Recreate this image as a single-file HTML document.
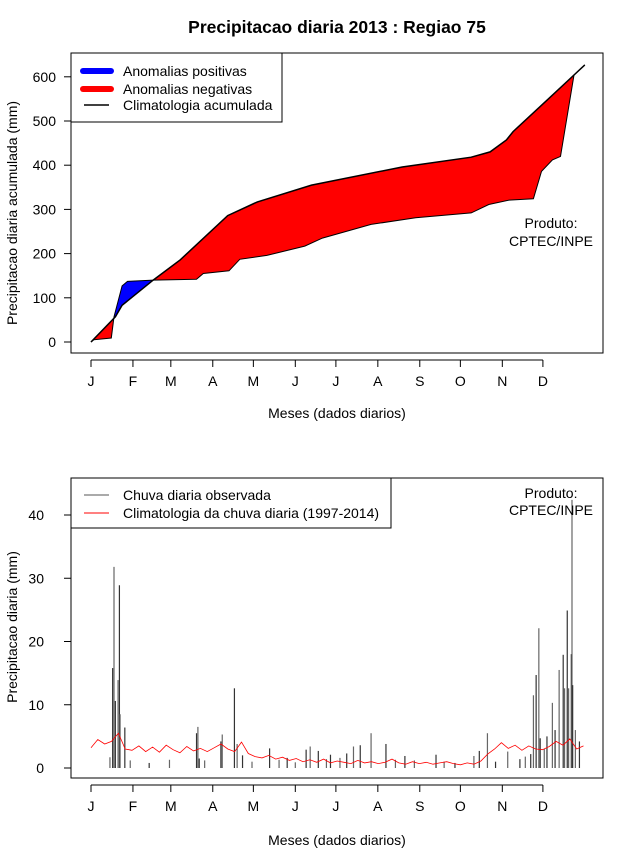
<!DOCTYPE html>
<html><head><meta charset="utf-8"><style>
body{margin:0;background:#fff}
svg{display:block;font-family:"Liberation Sans",Arial,sans-serif}
</style></head><body>
<svg id="chart" width="640" height="850" viewBox="0 0 640 850">
<text x="337" y="33" text-anchor="middle" font-size="17.5" font-weight="bold">Precipitacao diaria 2013 : Regiao 75</text>
<defs>
<clipPath id="clipAbove"><path id="cpA" d=""/></clipPath>
<clipPath id="clipBelow"><path id="cpB" d=""/></clipPath>
</defs>
<g id="topPanel"></g>
<g id="botPanel"></g>
</svg>
<script>
// ---- Top panel data (cumulative, mm) ----
const climDays = [1,19,24,47,67,102,124,164,231,282,296,308,313,338,358,366];
const climVals = [0,57,83,140,186,286,317,355,396,418,430,457,476,547,604,627];
const obsDays = [1,3,16,18,24,28,47,79,84,103,111,131,159,172,208,241,282,295,310,328,334,342,348,358,366];
const obsVals = [0,5,9,57,127,137,140,142,155,161,187,196,217,235,266,281,292,311,321,324,386,412,420,604,627];
const topTicks = [0,100,200,300,400,500,600];
const monthLabels = ["J","F","M","A","M","J","J","A","S","O","N","D"];
const monthDays = [1,32,60,91,121,152,182,213,244,274,305,335];
// ---- Bottom panel data (daily, mm) ----
const rainDays = [15,17,18,19,21,22,22.5,26,30,44,59,79,80,81,85,97,98,107,109,113,120,133,140,146,152,160,163,169,175,178,185,190,195,200,208,219,226,233,240,256,262,270,284,288,294,300,309,318,322,326,328,330,332,333,336,338,342,344,347,350,351,353,354,356,356.5,357,359,362];
const rainVals = [1.7,15.8,31.8,10.6,13.9,28.9,8.5,6.4,1.2,0.8,1.3,5.5,6.5,1.5,1.2,4.2,5.3,12.6,3.8,2.0,1.0,3.1,1.3,1.6,0.9,2.9,3.4,2.7,1.4,2.1,1.6,2.3,3.4,3.6,5.5,3.8,1.3,1.9,1.2,2.1,1.0,0.8,1.9,2.7,5.5,1.0,2.6,1.4,1.8,2.2,11.5,14.7,22.1,4.7,3.0,5.0,10.3,6.0,15.5,17.9,12.6,24.9,12.6,18.0,42.4,13.1,6.0,4.2];
const climDaily = [3.2,4.5,3.8,4.2,5.5,3.0,2.8,3.5,2.6,3.3,2.5,3.6,2.9,2.4,3.4,2.7,3.1,2.6,3.2,3.8,3.0,2.6,4.1,2.3,1.8,1.6,2.0,1.4,1.7,1.2,1.5,1.0,1.3,0.9,1.4,0.8,1.1,0.9,0.7,1.2,0.8,1.0,0.7,0.9,1.4,0.8,0.6,1.0,0.7,0.9,0.6,0.8,1.0,0.7,0.5,0.8,0.6,1.1,2.2,3.0,4.0,3.1,3.6,2.8,3.5,3.0,2.9,3.4,4.2,3.6,4.6,3.0,3.5];
const botTicks = [0,10,20,30,40];

const NS="http://www.w3.org/2000/svg";
const FS=14;
function mk(parent,tag,attrs,text){const e=document.createElementNS(NS,tag);for(const k in attrs)e.setAttribute(k,attrs[k]);if(text!==undefined)e.textContent=text;parent.appendChild(e);return e;}
const xDay = d => 91 + (d-1)*1.353;
const yTop = v => 342 - v*0.442;
const yBot = v => 768 - v*6.325;

const topG = document.getElementById('topPanel');
const botG = document.getElementById('botPanel');

let climPts = climDays.map((d,i)=>[xDay(d),yTop(climVals[i])]);
let obsPts = obsDays.map((d,i)=>[xDay(d),yTop(obsVals[i])]);
const lineStr = p => p.map(q=>q[0].toFixed(1)+','+q[1].toFixed(1)).join(' L');
document.getElementById('cpA').setAttribute('d','M'+lineStr(climPts)+' L603,40 L60,40 Z');
document.getElementById('cpB').setAttribute('d','M'+lineStr(climPts)+' L603,360 L60,360 Z');
const between = 'M'+lineStr(climPts)+' L'+lineStr(obsPts.slice().reverse())+' Z';
let e;
e = mk(topG,'path',{d:between,fill:'#0000ff','clip-path':'url(#clipAbove)'});


e = mk(topG,'path',{d:between,fill:'#ff0000','clip-path':'url(#clipBelow)'});


e = mk(topG,'path',{d:'M'+lineStr(obsPts),fill:'none',stroke:'#000','stroke-width':1});


e = mk(topG,'path',{d:'M'+lineStr(climPts),fill:'none',stroke:'#000','stroke-width':1.5});


e = mk(topG,'rect',{x:71,y:53,width:532,height:300,fill:'none',stroke:'#000'});


topTicks.forEach(t=>{const y=yTop(t);
 mk(topG,'line',{x1:64,x2:71,y1:y,y2:y,stroke:'#000'});
 const lb=mk(topG,'text',{x:56,y:y+5,'text-anchor':'end','font-size':FS},String(t));
 
 
});
function months(g,yAxis){
 mk(g,'line',{x1:xDay(1),x2:xDay(335),y1:yAxis,y2:yAxis,stroke:'#000'});
 monthDays.forEach((d,i)=>{const x=xDay(d);
  mk(g,'line',{x1:x,x2:x,y1:yAxis,y2:yAxis+7,stroke:'#000'});
  const t=mk(g,'text',{x:x,y:yAxis+26,'text-anchor':'middle','font-size':FS},monthLabels[i]);
  
  
 });
}
months(topG,360);
e=mk(topG,'text',{x:337,y:418,'text-anchor':'middle','font-size':FS},'Meses (dados diarios)');


e=mk(topG,'text',{x:17,y:213,'text-anchor':'middle','font-size':FS,transform:'rotate(-90 17 213)'},'Precipitacao diaria acumulada (mm)');


e=mk(topG,'text',{x:551,y:228,'text-anchor':'middle','font-size':FS},'Produto:');


e=mk(topG,'text',{x:551,y:246,'text-anchor':'middle','font-size':FS},'CPTEC/INPE');


const lg=mk(topG,'g',{});


mk(lg,'rect',{x:71,y:53,width:211,height:69,fill:'#fff',stroke:'#000'});
mk(lg,'line',{x1:83,x2:111,y1:71,y2:71,stroke:'#0000ff','stroke-width':6,'stroke-linecap':'round'});
mk(lg,'line',{x1:83,x2:111,y1:89,y2:89,stroke:'#ff0000','stroke-width':6,'stroke-linecap':'round'});
mk(lg,'line',{x1:84,x2:109,y1:105,y2:105,stroke:'#000','stroke-width':1.5});
mk(lg,'text',{x:123,y:76,'font-size':FS},'Anomalias positivas');
mk(lg,'text',{x:123,y:94,'font-size':FS},'Anomalias negativas');
mk(lg,'text',{x:123,y:110,'font-size':FS},'Climatologia acumulada');

rainDays.forEach((d,i)=>{const x=xDay(d);
 const b=mk(botG,'line',{x1:x,x2:x,y1:yBot(0),y2:yBot(rainVals[i]),stroke:i%2?'#333':'#666','stroke-width':1.2});
 
 
});
const step=364/(climDaily.length-1);
const cpts=climDaily.map((v,i)=>[xDay(1+i*step),yBot(v)]);
e=mk(botG,'path',{d:'M'+lineStr(cpts),fill:'none',stroke:'#ff0000','stroke-width':0.8});


e=mk(botG,'rect',{x:71,y:478,width:532,height:300,fill:'none',stroke:'#000'});


botTicks.forEach(t=>{const y=yBot(t);
 mk(botG,'line',{x1:64,x2:71,y1:y,y2:y,stroke:'#000'});
 const lb=mk(botG,'text',{x:44,y:y+5,'text-anchor':'end','font-size':FS},String(t));
 
 
});
months(botG,785);
e=mk(botG,'text',{x:337,y:845,'text-anchor':'middle','font-size':FS},'Meses (dados diarios)');


e=mk(botG,'text',{x:17,y:627,'text-anchor':'middle','font-size':FS,transform:'rotate(-90 17 627)'},'Precipitacao diaria (mm)');


e=mk(botG,'text',{x:551,y:498,'text-anchor':'middle','font-size':FS},'Produto:');


e=mk(botG,'text',{x:551,y:515,'text-anchor':'middle','font-size':FS},'CPTEC/INPE');


const lg2=mk(botG,'g',{});


mk(lg2,'rect',{x:71,y:478,width:320,height:50,fill:'#fff',stroke:'#000'});
mk(lg2,'line',{x1:84,x2:109,y1:495,y2:495,stroke:'#555'});
mk(lg2,'line',{x1:84,x2:109,y1:513,y2:513,stroke:'#ff0000'});
mk(lg2,'text',{x:123,y:500,'font-size':FS},'Chuva diaria observada');
mk(lg2,'text',{x:123,y:518,'font-size':FS},'Climatologia da chuva diaria (1997-2014)');
</script>
</body></html>
